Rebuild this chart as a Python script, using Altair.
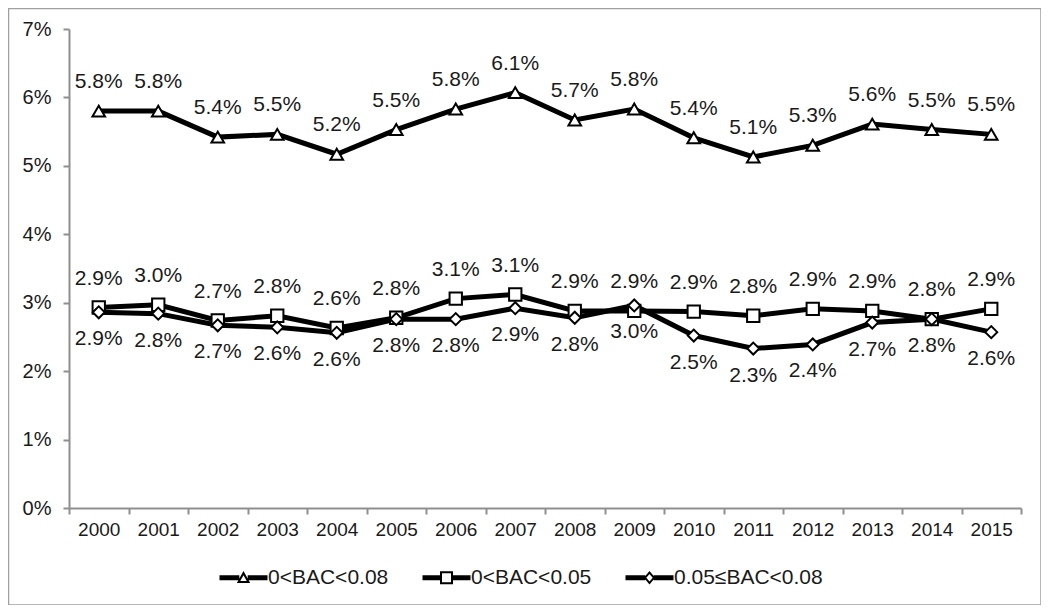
import altair as alt
import pandas as pd

years = [str(y) for y in range(2000, 2016)]
series_names = ["0<BAC<0.08", "0<BAC<0.05", "0.05≤BAC<0.08"]
bac_0_008 = [5.80, 5.80, 5.42, 5.46, 5.17, 5.53, 5.83, 6.07, 5.67, 5.83, 5.41, 5.13, 5.30, 5.61, 5.53, 5.46]
bac_0_005 = [2.93, 2.97, 2.74, 2.81, 2.63, 2.78, 3.06, 3.12, 2.88, 2.88, 2.87, 2.81, 2.91, 2.88, 2.76, 2.91]
bac_005_008 = [2.86, 2.84, 2.67, 2.64, 2.56, 2.76, 2.76, 2.92, 2.78, 2.96, 2.52, 2.33, 2.39, 2.71, 2.76, 2.57]
label_side = ["above", "above", "below"]
y_ticks = [0, 0.01, 0.02, 0.03, 0.04, 0.05, 0.06, 0.07]

rows = []
for name, vals, side in zip(series_names, [bac_0_008, bac_0_005, bac_005_008], label_side):
    for yr, v in zip(years, vals):
        rows.append({"year": yr, "series": name, "value": v / 100.0, "side": side})
df = pd.DataFrame(rows)

FONT = "Liberation Sans"
W, H = 952, 479

x_enc = alt.X("year:O", scale=alt.Scale(type="band", paddingInner=0, paddingOuter=0),
              axis=alt.Axis(title=None, labelAngle=0, tickBand="extent", labelFontSize=19,
                            labelFont=FONT, labelColor="#1a1a1a", labelPadding=6,
                            domainColor="#8f8f8f", domainWidth=2, tickColor="#8f8f8f",
                            tickWidth=2, tickSize=6))
y_enc = alt.Y("value:Q", scale=alt.Scale(domain=[0, 0.07], nice=False, zero=True),
              axis=alt.Axis(title=None, values=y_ticks, format=".0%", grid=False,
                            labelFontSize=20, labelFont=FONT, labelColor="#1a1a1a",
                            labelPadding=12, domainColor="#8f8f8f", domainWidth=2,
                            tickColor="#8f8f8f", tickWidth=2, tickSize=6))

base = alt.Chart(df)

lines = base.mark_line(color="black", strokeWidth=5).encode(
    x=x_enc, y=y_enc, detail="series:N")

points = base.mark_point(filled=True, fill="white", stroke="black", strokeWidth=2, opacity=1).encode(
    x=x_enc, y=y_enc,
    shape=alt.Shape("series:N", scale=alt.Scale(domain=series_names,
                                                range=["triangle-up", "square", "diamond"]), legend=None),
    size=alt.Size("series:N", scale=alt.Scale(domain=series_names, range=[160, 144, 120]), legend=None),
)

labels_above = base.transform_filter(alt.datum.side == "above").mark_text(
    font=FONT, fontSize=21, color="#1a1a1a", dy=-29, baseline="middle").encode(
    x=x_enc, y=y_enc, text=alt.Text("value:Q", format=".1%"))

labels_below = base.transform_filter(alt.datum.side == "below").mark_text(
    font=FONT, fontSize=21, color="#1a1a1a", dy=27, baseline="middle").encode(
    x=x_enc, y=y_enc, text=alt.Text("value:Q", format=".1%"))

tri_path = ("M-3.43,-0.36L-0.6,-0.36L-0.6,0.36L-3.43,0.36Z "
            "M0.6,-0.36L3.43,-0.36L3.43,0.36L0.6,0.36Z "
            "M0,-0.95L0.95,0.75L-0.95,0.75Z M0,-0.36L-0.46,0.46L0.46,0.46Z")
sq_path = ("M-3.43,-0.36L-0.93,-0.36L-0.93,0.36L-3.43,0.36Z "
           "M0.93,-0.36L3.43,-0.36L3.43,0.36L0.93,0.36Z "
           "M-0.93,-0.93L0.93,-0.93L0.93,0.93L-0.93,0.93Z M-0.64,-0.64L-0.64,0.64L0.64,0.64L0.64,-0.64Z")
dia_path = ("M-3.43,-0.36L-0.6,-0.36L-0.6,0.36L-3.43,0.36Z "
            "M0.6,-0.36L3.43,-0.36L3.43,0.36L0.6,0.36Z "
            "M0,-0.95L0.8,0L0,0.95L-0.8,0Z M0,-0.55L-0.46,0L0,0.55L0.46,0Z")

legend_layer = base.transform_filter("false").mark_point(filled=True, color="black", opacity=1).encode(
    x=x_enc, y=y_enc,
    shape=alt.Shape("series:N", scale=alt.Scale(domain=series_names, range=[tri_path, sq_path, dia_path]),
                    legend=alt.Legend(title=None, orient="none", legendX=164, legendY=538,
                                      direction="horizontal", columns=3, padding=0,
                                      symbolSize=196, symbolStrokeWidth=0, symbolFillColor="black",
                                      labelFont=FONT, labelFontSize=21, labelColor="#1a1a1a",
                                      labelOffset=14, columnPadding=33, labelLimit=300)),
)

frame = alt.Chart(pd.DataFrame({"k": [0]})).mark_rect(
    fill="transparent", stroke="#a0a0a0", strokeWidth=1.5).encode(
    x=alt.value(-60.5), x2=alt.value(972), y=alt.value(-20.5), y2=alt.value(576))

chart = alt.layer(frame, lines, points, labels_above, labels_below, legend_layer).resolve_scale(
    shape="independent"
).properties(
    width=W, height=H,
    autosize=alt.AutoSizeParams(type="none"),
    padding={"left": 61, "top": 21, "right": 20, "bottom": 97},
    background="white",
).configure_view(stroke=None)

chart.save("out.html", embed_options={"renderer": "svg", "actions": False})
